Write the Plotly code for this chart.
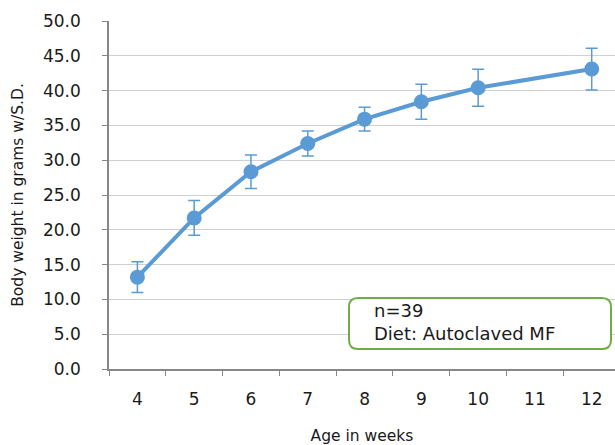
import plotly.graph_objects as go

weeks = ["4", "5", "6", "7", "8", "9", "10", "11", "12"]
weight = [13.2, 21.7, 28.35, 32.4, 35.9, 38.4, 40.4, None, 43.1]
sd = [2.2, 2.5, 2.4, 1.8, 1.7, 2.5, 2.65, None, 3.0]

FONT = "DejaVu Sans"
BLUE = "#5b9bd5"

fig = go.Figure()
fig.add_trace(go.Scatter(
    x=weeks, y=weight,
    mode="lines+markers",
    connectgaps=True,
    line=dict(color=BLUE, width=4),
    marker=dict(color=BLUE, size=15),
    error_y=dict(type="data", array=sd, visible=True, color=BLUE, thickness=1.5, width=6),
    showlegend=False,
))

# rounded annotation box (paper coords)
x0, x1, y0, y1 = 0.4743, 0.9921, 0.0575, 0.2040
rx, ry = 9 / 506, 9 / 348
path = (f"M {x0+rx},{y1} L {x1-rx},{y1} Q {x1},{y1} {x1},{y1-ry} "
        f"L {x1},{y0+ry} Q {x1},{y0} {x1-rx},{y0} L {x0+rx},{y0} "
        f"Q {x0},{y0} {x0},{y0+ry} L {x0},{y1-ry} Q {x0},{y1} {x0+rx},{y1} Z")
fig.add_shape(type="path", path=path, xref="paper", yref="paper",
              line=dict(color="#70ad47", width=2), fillcolor="white", layer="above")
fig.add_annotation(text="n=39", x=0.5198, y=0.1667, xref="paper", yref="paper",
                   xanchor="left", yanchor="middle", showarrow=False,
                   font=dict(family=FONT, size=18, color="#1a1a1a"))
fig.add_annotation(text="Diet: Autoclaved MF", x=0.5198, y=0.1034, xref="paper", yref="paper",
                   xanchor="left", yanchor="middle", showarrow=False,
                   font=dict(family=FONT, size=18, color="#1a1a1a"))

fig.update_layout(
    width=615, height=445,
    margin=dict(l=109, r=0, t=21, b=76),
    paper_bgcolor="white", plot_bgcolor="white",
    font=dict(family=FONT, color="#1a1a1a"),
    xaxis=dict(
        type="category", range=[-0.5, 8.41],
        showline=True, linecolor="#878787", linewidth=1.5,
        ticks="outside", tickson="boundaries", ticklen=5, tickcolor="#878787",
        tickfont=dict(size=17), ticklabelstandoff=14, showgrid=False,
        title=dict(text="Age in weeks", font=dict(size=15.5), standoff=22),
    ),
    yaxis=dict(
        range=[0, 50], dtick=5, tickformat=".1f",
        showline=True, linecolor="#878787", linewidth=1.5,
        ticks="outside", ticklen=5, tickcolor="#878787",
        tickfont=dict(size=17), ticklabelstandoff=18,
        showgrid=True, gridcolor="#d0d0d0", gridwidth=1,
        zeroline=False,
        title=dict(text="Body weight in grams w/S.D.", font=dict(size=15.5), standoff=16),
    ),
)

fig.write_html("out.html", config={"displayModeBar": False},
               post_script="document.body.style.margin='0';")
